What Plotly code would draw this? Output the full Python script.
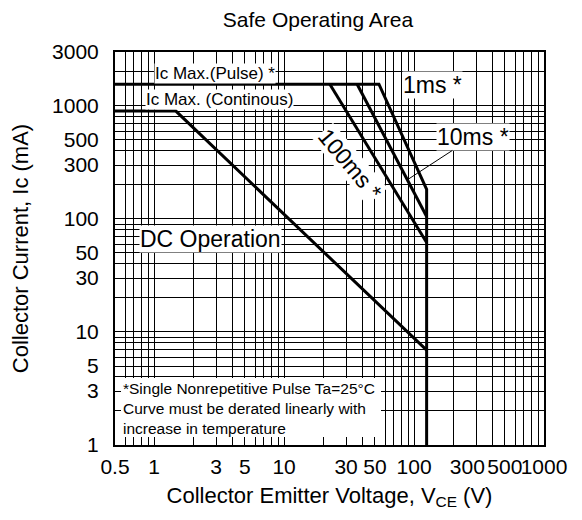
import plotly.graph_objects as go
import math

# ---- data ----
x_tick_vals = [0.5, 1, 3, 5, 10, 30, 50, 100, 300, 500, 1000]
x_tick_text = ["0.5", "1", "3", "5", "10", "30", "50", "100", "300", "500", "1000"]
y_tick_vals = [1, 3, 5, 10, 30, 50, 100, 300, 500, 1000, 3000]
y_tick_text = ["1", "3", "5", "10", "30", "50", "100", "300", "500", "1000", "3000"]

# boundary: Ic max pulse + 1ms + voltage limit
pulse_1ms_v = [0.5, 53.7, 125, 125]
pulse_1ms_i = [1556, 1556, 183, 1]
ms10_v = [36.5, 125]
ms10_i = [1556, 105]
ms100_v = [22.5, 125]
ms100_i = [1556, 62]
dc_v = [0.5, 1.47, 125]
dc_i = [900, 900, 6.9]

FONT = "Liberation Sans, Arial, sans-serif"
PAD = "<span style='color:rgba(0,0,0,0)'>...</span>"  # invisible padding to nudge a crowded label left

def grid_vals(lo, hi):
    vals = []
    d = 10 ** math.floor(math.log10(lo))
    while d <= hi:
        for m in range(1, 10):
            v = m * d
            if lo - 1e-9 <= v <= hi + 1e-9:
                vals.append(round(v, 6))
        d *= 10
    return vals

xg = grid_vals(0.5, 1000)
yg = grid_vals(1, 3000)
xtext = []
for v in xg:
    if v in x_tick_vals:
        t = x_tick_text[x_tick_vals.index(v)]
        xtext.append(t + PAD if t == "300" else t)
    else:
        xtext.append(" ")
ytext = [y_tick_text[y_tick_vals.index(v)] if v in y_tick_vals else " " for v in yg]

fig = go.Figure()
line = dict(color="black", width=3)
for xs, ys in [(pulse_1ms_v, pulse_1ms_i), (ms10_v, ms10_i), (ms100_v, ms100_i), (dc_v, dc_i)]:
    fig.add_trace(go.Scatter(x=xs, y=ys, mode="lines", line=line, showlegend=False, hoverinfo="skip"))

OFF = 8  # page body margin
L, R, T, B = 115, 544, 52, 445  # plot area in window pixels
W, H = 582 - OFF, 520 - OFF

def px(x):
    return (x - L) / (R - L)

def py(y):
    return (B - y) / (B - T)

ann = []
def label(text, x, y, size, angle=0, xanchor="center"):
    ann.append(dict(text=text, x=px(x), y=py(y), xref="paper", yref="paper", showarrow=False,
                    font=dict(family=FONT, size=size, color="black"), bgcolor="white",
                    textangle=angle, xanchor=xanchor, yanchor="middle", borderpad=0))

label("Ic Max.(Pulse) *", 215, 73, 17)
label("Ic Max. (Continous)", 219, 99, 17)
label("1ms *", 432, 85, 23)
label("DC Operation", 210, 239, 23)
label("100ms *", 350, 164, 23, angle=50)
# 10ms with leader line
ann.append(dict(text="10ms *", x=px(407), y=py(180), xref="paper", yref="paper",
                ax=473 - 407, ay=137 - 180, axref="pixel", ayref="pixel", showarrow=True, arrowhead=0,
                arrowwidth=1, arrowcolor="black", standoff=0,
                font=dict(family=FONT, size=23, color="black"), bgcolor="white", borderpad=0))
# note
for i, t in enumerate(["*Single Nonrepetitive Pulse Ta=25°C",
                       "Curve must be derated linearly with",
                       "increase in temperature"]):
    ann.append(dict(text=t, x=px(121), y=py(388 + 20 * i), xref="paper", yref="paper",
                    showarrow=False, xanchor="left", yanchor="middle",
                    font=dict(family=FONT, size=15.5, color="black")))

shapes = [dict(type="rect", xref="paper", yref="paper", x0=px(121), x1=px(381), y0=py(378), y1=py(437),
               fillcolor="white", line=dict(width=0), layer="above")]

axis_common = dict(type="log", showgrid=True, gridcolor="black", gridwidth=1, showline=True,
                   linecolor="black", linewidth=2, mirror=True, ticks="", zeroline=False,
                   automargin=False, tickangle=0,
                   tickfont=dict(family=FONT, size=21, color="black"))

fig.update_layout(
    width=W, height=H,
    margin=dict(l=L - OFF, r=W - (R - OFF), t=T - OFF, b=H - (B - OFF)),
    paper_bgcolor="white", plot_bgcolor="white",
    title=dict(text="Safe Operating Area", x=(318 - OFF) / W, y=1 - (20 - OFF) / H,
               xanchor="center", yanchor="middle", font=dict(family=FONT, size=21, color="black")),
    xaxis=dict(axis_common, range=[math.log10(0.5), math.log10(1000)], tickvals=xg, ticktext=xtext,
               ticklabelstandoff=2,
               title=dict(text="Collector Emitter Voltage, V<sub>CE</sub> (V)", standoff=10,
                          font=dict(family=FONT, size=22, color="black"))),
    yaxis=dict(axis_common, range=[0, math.log10(3000)], tickvals=yg, ticktext=ytext,
               ticklabelstandoff=10,
               title=dict(text="Collector Current, Ic (mA)", standoff=26,
                          font=dict(family=FONT, size=22, color="black"))),
    annotations=ann, shapes=shapes,
)

fig.write_html("out.html")
